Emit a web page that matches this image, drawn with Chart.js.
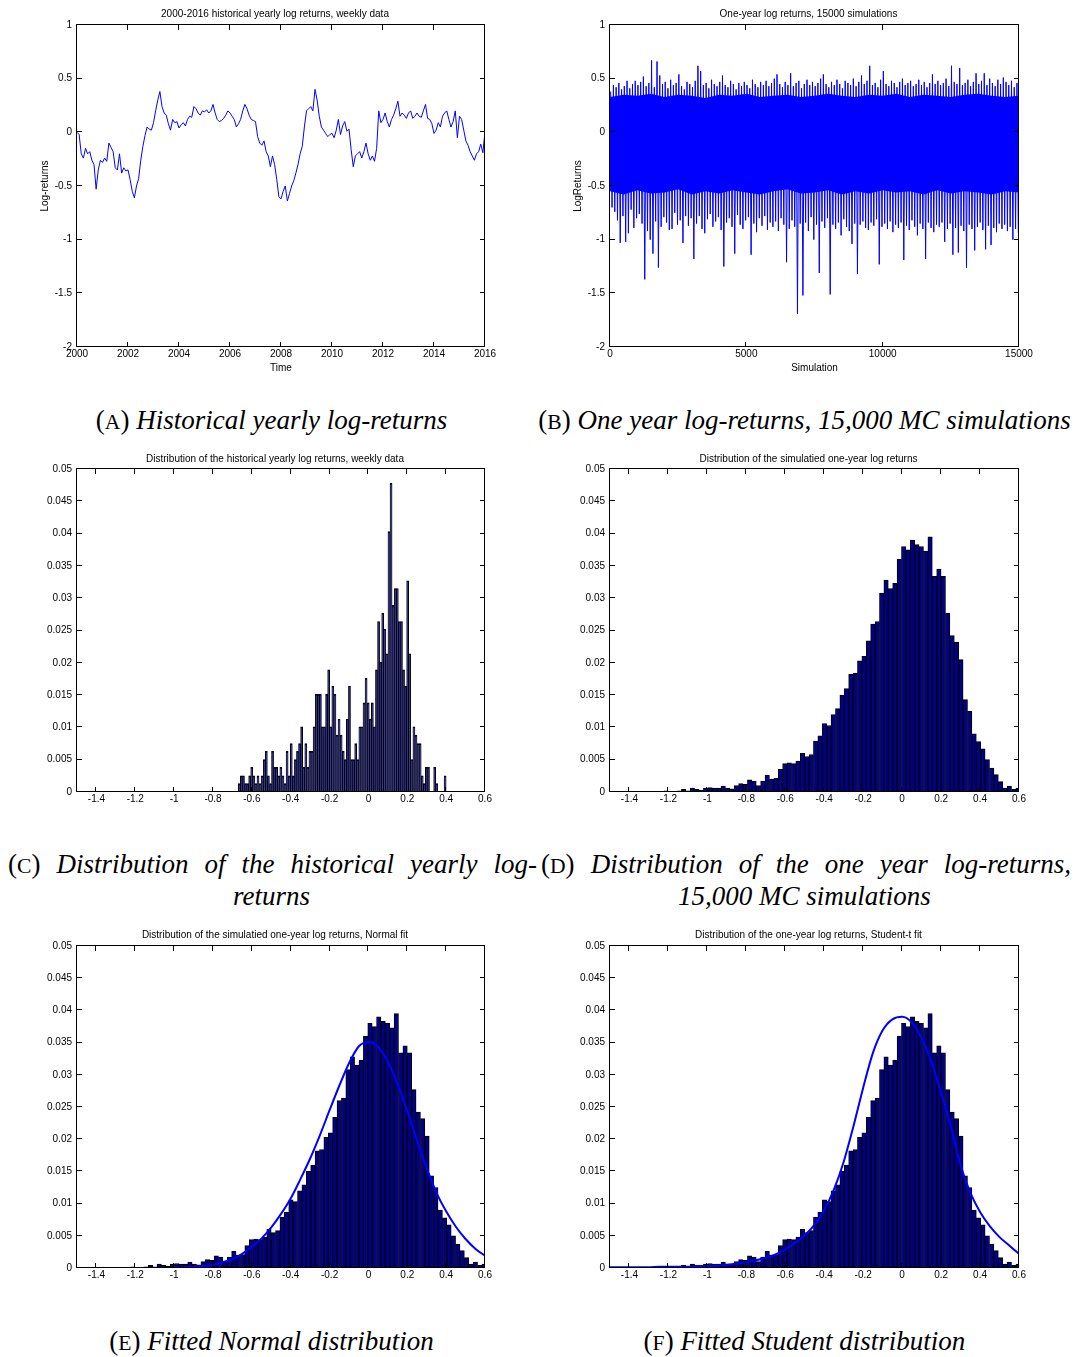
<!DOCTYPE html>
<html><head><meta charset="utf-8">
<script src="https://cdn.jsdelivr.net/npm/chart.js@4.4.1/dist/chart.umd.min.js"></script>
<style>
html,body{margin:0;padding:0;background:#fff}
body{width:1075px;height:1357px;position:relative;overflow:hidden}
canvas{position:absolute}
.cap{position:absolute;font-family:"Liberation Serif","DejaVu Serif",serif;font-size:27px;line-height:30px;color:#000;white-space:nowrap}
.cap i{font-style:italic}
.sc{font-size:0.8em;font-style:normal}
.just{text-align:justify;text-align-last:justify}
.cen{text-align:center}
</style>
</head><body>
<canvas id="cA" width="537" height="385" style="left:0;top:0"></canvas>
<canvas id="cB" width="538" height="385" style="left:537px;top:0"></canvas>
<canvas id="cC" width="537" height="370" style="left:0;top:445px"></canvas>
<canvas id="cD" width="538" height="370" style="left:537px;top:445px"></canvas>
<canvas id="cE" width="537" height="370" style="left:0;top:922px"></canvas>
<canvas id="cF" width="538" height="370" style="left:537px;top:922px"></canvas>

<div class="cap cen" style="left:3px;top:405px;width:537px">(<span class="sc">A</span>) <i>Historical yearly log-returns</i></div>
<div class="cap cen" style="left:538px;top:405px;width:533px">(<span class="sc">B</span>) <i>One year log-returns, 15,000 MC simulations</i></div>
<div class="cap just" style="left:8px;top:849px;width:529px">(<span class="sc">C</span>) <i>Distribution of the historical yearly log-</i></div>
<div class="cap cen" style="left:3px;top:881px;width:537px"><i>returns</i></div>
<div class="cap just" style="left:541px;top:849px;width:530px">(<span class="sc">D</span>) <i>Distribution of the one year log-returns,</i></div>
<div class="cap cen" style="left:538px;top:881px;width:533px"><i>15,000 MC simulations</i></div>
<div class="cap cen" style="left:3px;top:1326px;width:537px">(<span class="sc">E</span>) <i>Fitted Normal distribution</i></div>
<div class="cap cen" style="left:538px;top:1326px;width:533px">(<span class="sc">F</span>) <i>Fitted Student distribution</i></div>

<script>
// ---------------- DATA ----------------
// (A) historical yearly log-returns, read monthly from Jan 2000 to Jan 2016
const histStartYear = 2000;
const histReturns = [
 0.00,-0.02,-0.20,-0.24,-0.15,-0.20,-0.18,-0.26,-0.30,-0.53,-0.35,-0.26,
 -0.28,-0.24,-0.27,-0.10,-0.14,-0.18,-0.33,-0.35,-0.20,-0.38,-0.33,-0.36,
 -0.35,-0.44,-0.55,-0.61,-0.50,-0.43,-0.26,-0.13,-0.03,0.05,0.03,0.02,
 0.09,0.20,0.30,0.38,0.24,0.18,0.16,0.08,0.02,0.12,0.09,0.10,
 0.04,0.07,0.09,0.06,0.12,0.15,0.14,0.24,0.22,0.18,0.16,0.20,
 0.19,0.21,0.18,0.20,0.26,0.18,0.12,0.10,0.11,0.13,0.16,0.20,
 0.18,0.15,0.12,0.05,0.08,0.12,0.20,0.26,0.22,0.16,0.12,0.11,
 0.10,-0.04,-0.10,-0.12,-0.08,-0.18,-0.22,-0.32,-0.22,-0.30,-0.44,-0.60,
 -0.62,-0.55,-0.50,-0.64,-0.57,-0.50,-0.45,-0.38,-0.30,-0.20,-0.13,0.05,
 0.20,0.22,0.24,0.20,0.40,0.30,0.15,0.05,0.02,-0.01,-0.04,-0.02,
 -0.01,-0.05,0.02,0.12,-0.02,0.06,0.10,0.01,0.03,-0.16,-0.32,-0.22,
 -0.20,-0.18,-0.24,-0.18,-0.10,-0.20,-0.26,-0.22,-0.27,-0.15,0.20,0.09,
 0.12,0.18,0.10,0.05,0.12,0.16,0.22,0.29,0.15,0.18,0.16,0.13,
 0.18,0.20,0.13,0.15,0.18,0.15,0.14,0.20,0.26,0.13,0.12,0.08,
 -0.01,0.02,0.09,0.05,0.15,0.18,0.20,0.12,0.05,0.10,0.20,-0.05,
 0.15,0.12,0.02,-0.08,-0.12,-0.18,-0.22,-0.26,-0.20,-0.18,-0.11,-0.19,
 0.01
];

// (B) simulated one-year log-returns
// solid core of the band, read every 500 simulations
const coreStep = 500;
const coreTop = [0.33,0.35,0.34,0.36,0.33,0.35,0.34,0.32,0.35,0.34,0.36,0.33,0.34,0.35,0.33,0.34,0.36,0.34,0.33,0.35,0.34,0.36,0.33,0.35,0.34,0.33,0.35,0.36,0.34,0.33,0.34];
const coreBottom = [-0.55,-0.58,-0.54,-0.57,-0.56,-0.53,-0.58,-0.55,-0.57,-0.54,-0.56,-0.58,-0.55,-0.53,-0.57,-0.56,-0.54,-0.58,-0.55,-0.57,-0.54,-0.56,-0.55,-0.58,-0.54,-0.57,-0.55,-0.56,-0.58,-0.55,-0.56];
// per block of 100 simulations, visible upper and lower extremes
const simBlock = 100;
const simHigh = [
 0.38,0.44,0.42,0.46,0.40,0.43,0.48,0.41,0.45,0.48,
 0.44,0.47,0.52,0.43,0.46,0.67,0.42,0.66,0.53,0.45,
 0.47,0.41,0.49,0.44,0.46,0.54,0.43,0.40,0.47,0.45,
 0.42,0.48,0.62,0.57,0.44,0.46,0.41,0.49,0.45,0.43,
 0.47,0.53,0.44,0.42,0.48,0.45,0.40,0.46,0.43,0.47,
 0.44,0.41,0.49,0.45,0.42,0.47,0.44,0.48,0.43,0.46,
 0.50,0.54,0.45,0.42,0.47,0.44,0.55,0.43,0.46,0.48,
 0.41,0.45,0.49,0.44,0.47,0.43,0.46,0.50,0.54,0.45,
 0.42,0.47,0.44,0.49,0.45,0.41,0.48,0.46,0.44,0.50,
 0.43,0.47,0.53,0.45,0.48,0.62,0.44,0.46,0.42,0.49,
 0.57,0.45,0.43,0.48,0.46,0.42,0.47,0.50,0.44,0.46,
 0.48,0.43,0.45,0.49,0.44,0.47,0.42,0.46,0.54,0.45,
 0.48,0.44,0.46,0.50,0.43,0.62,0.47,0.45,0.60,0.44,
 0.46,0.49,0.43,0.47,0.55,0.45,0.48,0.55,0.44,0.50,
 0.46,0.43,0.49,0.45,0.51,0.47,0.44,0.48,0.42,0.46
];
const simLow = [
 -0.70,-0.74,-0.82,-1.03,-0.78,-1.02,-0.94,-0.72,-0.89,-0.80,
 -0.76,-0.85,-1.37,-0.92,-1.00,-1.13,-0.83,-1.26,-0.88,-0.79,
 -0.84,-0.91,-0.90,-0.75,-0.86,-0.82,-1.03,-0.78,-0.87,-0.80,
 -1.18,-0.85,-0.78,-0.90,-0.94,-0.81,-0.76,-0.88,-0.83,-0.79,
 -0.91,-1.25,-0.84,-0.80,-0.88,-1.13,-0.77,-0.86,-0.90,-0.82,
 -0.79,-1.14,-0.85,-0.93,-0.80,-0.87,-0.78,-0.91,-0.84,-0.88,
 -0.83,-0.92,-0.80,-0.86,-1.21,-0.90,-0.82,-0.88,-1.69,-0.85,
 -1.52,-0.84,-0.92,-0.79,-1.00,-0.86,-1.31,-0.83,-0.89,-0.80,
 -1.51,-0.86,-0.90,-0.84,-0.96,-0.81,-0.88,-0.92,-1.04,-0.85,
 -1.32,-0.86,-0.83,-0.89,-0.91,-0.84,-0.87,-0.81,-1.23,-0.88,
 -0.85,-0.90,-0.83,-0.93,-0.86,-0.89,-0.84,-1.19,-0.87,-0.91,
 -0.82,-0.88,-0.96,-0.85,-0.90,-1.18,-0.84,-0.89,-0.93,-0.86,
 -0.88,-0.84,-1.02,-0.90,-0.85,-1.14,-0.89,-1.12,-0.87,-0.92,
 -1.26,-0.86,-0.90,-1.10,-0.88,-0.84,-0.91,-1.09,-0.87,-1.05,
 -0.89,-0.93,-0.85,-0.90,-0.86,-0.92,-0.88,-1.00,-0.90,-0.94
];

// (C) histogram of historical returns: 100 bins
const histBinStart = -0.67, histBinWidth = 0.0107;
const histFreq = [
 0.0013,0.0025,0.0025,0.0013,0.0013,0.0025,0.0038,0.0025,0.0013,0.0025,0.0013,
 0.0025,0.005,0.0063,0.0025,0.0013,0.0063,0.0038,0.0038,0.0025,0.0038,
 0.0025,0.0013,0.0063,0.0025,0.0075,0.0025,0.005,0.0063,0.0075,0.0101,
 0.0038,0.0075,0.0038,0.0063,0.0063,0.0101,
 0.0151,0.0151,0.0151,0.0101,0.0101,0.0151,0.0189,0.0101,0.0164,0.0151,
 0.0088,0.0113,0.0088,0.0063,0.005,0.0113,0.0164,
 0.005,0.005,0.0075,0.005,0.0101,0.0101,0.0138,0.0176,0.0138,0.0113,0.0138,0.0101,
 0.0189,0.0264,0.0201,0.0277,0.0252,0.0214,0.0403,0.0478,0.0289,0.0315,0.0315,0.0264,0.0264,0.0189,0.0164,0.0327,0.0214,
 0.005,0.0101,0.0088,0.0075,0.0075,0.0025,0.0013,0.0038,0.0038,0,0,0.0038,0.0013,0,0,0,0.0025
];

// (D,E,F) histogram of simulated returns: visible bins
const simBinStart = -1.495, simBinWidth = 0.0226;
const simFreq = [
 0,0,0,0,0.0001,0,0,0,
 0.0001,0.0001,0.0001,0.0001,0.0002,0.0001,0.0001,0.0002,
 0.0004,0.0002,0.0006,0.0004,0.0003,
 0.0006,0.0007,0.0006,0.0006,0.0009,0.0006,0.0005,0.001,0.0013,0.0012,
 0.0019,0.0017,0.001,0.0017,0.0026,0.002,0.0021,0.0035,0.0044,0.0045,
 0.0044,0.0048,0.006,0.0055,0.0058,0.0079,0.0087,0.0106,0.0103,0.012,
 0.0129,0.015,0.016,0.0182,0.0184,0.0203,0.021,0.0234,0.026,0.0264,
 0.0308,0.0328,0.0315,0.0323,0.036,0.038,0.0375,0.039,0.0383,0.038,0.0373,0.0395,
 0.0334,0.0345,0.0334,0.0277,0.0242,0.0232,0.0205,0.0143,0.0125,0.009,0.0078,0.0067,0.005,0.0037,0.0027,0.0016,0.0006,0.0009,0.0004,0.0006
];

// fitted curves, read at x = -1.5, -1.45, ..., 0.6
const fitX = [-1.5,-1.45,-1.4,-1.35,-1.3,-1.25,-1.2,-1.15,-1.1,-1.05,-1,-0.95,-0.9,-0.85,-0.8,-0.75,-0.7,-0.65,-0.6,-0.55,-0.5,-0.45,-0.4,-0.35,-0.3,-0.25,-0.2,-0.15,-0.1,-0.05,0,0.05,0.1,0.15,0.2,0.25,0.3,0.35,0.4,0.45,0.5,0.55,0.6];
const normalFit = [0,0,0,0,0,0,0,0,0,0,0,0.0001,0.0002,0.0003,0.0005,0.0009,0.0014,0.0022,0.0033,0.0046,0.0063,0.0084,0.0108,0.0138,0.0170,0.0206,0.0245,0.0283,0.0318,0.0344,0.0351,0.0343,0.0320,0.0286,0.0244,0.0198,0.0155,0.0117,0.0088,0.0064,0.0045,0.0030,0.0019];
const studentFit = [0.0001,0.0001,0.0001,0.0001,0.0001,0.0002,0.0002,0.0002,0.0002,0.0003,0.0003,0.0004,0.0005,0.0007,0.0009,0.0012,0.0016,0.0021,0.0029,0.0039,0.0051,0.0067,0.0090,0.0122,0.0165,0.0220,0.0280,0.0334,0.0369,0.0386,0.0390,0.0381,0.0357,0.0320,0.0272,0.0220,0.0160,0.0117,0.0087,0.0065,0.0048,0.0035,0.0022];

// tick values
const yearTicks = [2000,2002,2004,2006,2008,2010,2012,2014,2016];
const returnTicks = [-2,-1.5,-1,-0.5,0,0.5,1];
const simTicks = [0,5000,10000,15000];
const binTicks = [-1.4,-1.2,-1,-0.8,-0.6,-0.4,-0.2,0,0.2,0.4,0.6];
const freqTicks = [0,0.005,0.01,0.015,0.02,0.025,0.03,0.035,0.04,0.045,0.05];

// ---------------- DRAWING ----------------
const NARROW = '"Liberation Sans Narrow","Liberation Sans",Arial,sans-serif';
Chart.defaults.font.family = '"Liberation Sans",Arial,sans-serif';
Chart.defaults.font.size = 10;
Chart.defaults.color = '#000';

const matlabPlugin = {
  id: 'matlab',
  afterDatasetsDraw(chart, args, opts) {
    const {ctx, chartArea: a, scales} = chart;
    ctx.save();
    ctx.strokeStyle = '#000';
    ctx.lineWidth = 1;
    ctx.beginPath();
    const L = 5;
    scales.x.ticks.forEach(t => {
      const px = Math.round(scales.x.getPixelForValue(t.value)) - 0.5;
      ctx.moveTo(px, a.bottom); ctx.lineTo(px, a.bottom - L);
      ctx.moveTo(px, a.top); ctx.lineTo(px, a.top + L);
    });
    scales.y.ticks.forEach(t => {
      const py = Math.round(scales.y.getPixelForValue(t.value)) - 0.5;
      ctx.moveTo(a.left, py); ctx.lineTo(a.left + L, py);
      ctx.moveTo(a.right, py); ctx.lineTo(a.right - L, py);
    });
    ctx.stroke();
    ctx.strokeRect(a.left - 0.5, a.top - 0.5, a.right - a.left, a.bottom - a.top);
    ctx.fillStyle = '#000';
    ctx.font = '10px ' + NARROW;
    ctx.textAlign = 'center';
    ctx.textBaseline = 'middle';
    ctx.fillText(opts.title, (a.left + a.right) / 2 - 6, opts.titleY);
    ctx.restore();
  }
};
Chart.register(matlabPlugin);

function axisOptions(p) {
  return {
    responsive: false,
    animation: false,
    events: [],
    layout: { padding: { left: 0, top: p.top, right: p.right, bottom: 0 } },
    plugins: {
      legend: { display: false },
      tooltip: { enabled: false },
      filler: { propagate: false },
      matlab: { title: p.title, titleY: p.titleY }
    },
    scales: {
      x: {
        type: 'linear', min: p.xmin, max: p.xmax, offset: false,
        grid: { display: false, drawTicks: false }, border: { display: false },
        ticks: { padding: 1, maxRotation: 0, autoSkip: false, callback: v => String(v) },
        afterBuildTicks: s => { s.ticks = p.xticks.map(v => ({ value: v })); },
        afterFit: s => { s.height = p.xh; },
        title: p.xtitle ? { display: true, text: p.xtitle, padding: { top: 0, bottom: 11 }, font: { family: NARROW, size: 10 } } : { display: false }
      },
      y: {
        type: 'linear', min: p.ymin, max: p.ymax,
        grid: { display: false, drawTicks: false }, border: { display: false },
        ticks: { padding: 5, autoSkip: false, callback: v => String(v) },
        afterBuildTicks: s => { s.ticks = p.yticks.map(v => ({ value: v })); },
        afterFit: s => { s.width = p.yw; },
        title: p.ytitle ? { display: true, text: p.ytitle, padding: { top: p.ytitlePad, bottom: 0 }, font: { family: NARROW, size: 10 } } : { display: false }
      }
    }
  };
}

const LEFT = { right: 52, yw: 77 };
const RIGHT = { right: 56, yw: 73 };

// (A)
new Chart(document.getElementById('cA'), {
  type: 'line',
  data: { datasets: [{
    data: histReturns.map((v, i) => ({ x: histStartYear + i / 12, y: v })),
    borderColor: '#0000ff', borderWidth: 1, pointRadius: 0, tension: 0
  }] },
  options: axisOptions(Object.assign({}, LEFT, {
    top: 25, xh: 38, title: '2000-2016 historical yearly log returns, weekly data', titleY: 14,
    xmin: 2000, xmax: 2016, xticks: yearTicks, ymin: -2, ymax: 1, yticks: returnTicks,
    xtitle: 'Time', ytitle: 'Log-returns', ytitlePad: 39
  }))
});

// (B)
const simPoints = [];
simHigh.forEach((h, k) => {
  simPoints.push({ x: k * simBlock + 25, y: h });
  simPoints.push({ x: k * simBlock + 75, y: simLow[k] });
});
new Chart(document.getElementById('cB'), {
  type: 'line',
  data: { datasets: [
    { data: coreTop.map((v, i) => ({ x: i * coreStep, y: v })), borderWidth: 0, pointRadius: 0,
      backgroundColor: '#0000ff', fill: '+1', tension: 0, order: 2 },
    { data: coreBottom.map((v, i) => ({ x: i * coreStep, y: v })), borderWidth: 0, pointRadius: 0,
      backgroundColor: '#0000ff', fill: false, tension: 0, order: 2 },
    { data: simPoints, borderColor: '#0000ff', borderWidth: 1, pointRadius: 0, tension: 0, fill: false, order: 1 }
  ] },
  options: axisOptions(Object.assign({}, RIGHT, {
    top: 25, xh: 38, title: 'One-year log returns, 15000 simulations', titleY: 14,
    xmin: 0, xmax: 15000, xticks: simTicks, ymin: -2, ymax: 1, yticks: returnTicks,
    xtitle: 'Simulation', ytitle: 'LogReturns', ytitlePad: 35
  }))
});

function barDataset(start, width, freqs) {
  return {
    type: 'bar',
    data: freqs.map((f, i) => ({ x: start + width * (i + 0.5), y: f })),
    backgroundColor: '#000088', borderColor: '#000', borderWidth: 1,
    barPercentage: 1, categoryPercentage: 1, order: 2
  };
}
function fitDataset(vals) {
  return {
    type: 'line',
    data: vals.map((v, i) => ({ x: fitX[i], y: v })),
    borderColor: '#0000ff', borderWidth: 2, pointRadius: 0, cubicInterpolationMode: 'monotone', order: 0
  };
}
function histOptions(side, title, titleY, xh) {
  return axisOptions(Object.assign({}, side, {
    top: 24, xh: xh, title: title, titleY: titleY,
    xmin: -1.5, xmax: 0.6, xticks: binTicks, ymin: 0, ymax: 0.05, yticks: freqTicks
  }));
}

// (C)
new Chart(document.getElementById('cC'), {
  type: 'bar',
  data: { datasets: [barDataset(histBinStart, histBinWidth, histFreq)] },
  options: histOptions(LEFT, 'Distribution of the historical yearly log returns, weekly data', 14, 23)
});
// (D)
new Chart(document.getElementById('cD'), {
  type: 'bar',
  data: { datasets: [barDataset(simBinStart, simBinWidth, simFreq)] },
  options: histOptions(RIGHT, 'Distribution of the simulatied one-year log returns', 14, 23)
});
// (E)
new Chart(document.getElementById('cE'), {
  type: 'bar',
  data: { datasets: [barDataset(simBinStart, simBinWidth, simFreq), fitDataset(normalFit)] },
  options: histOptions(LEFT, 'Distribution of the simulatied one-year log returns, Normal fit', 13, 24)
});
// (F)
new Chart(document.getElementById('cF'), {
  type: 'bar',
  data: { datasets: [barDataset(simBinStart, simBinWidth, simFreq), fitDataset(studentFit)] },
  options: histOptions(RIGHT, 'Distribution of the one-year log returns, Student-t fit', 13, 24)
});
</script>
</body></html>
